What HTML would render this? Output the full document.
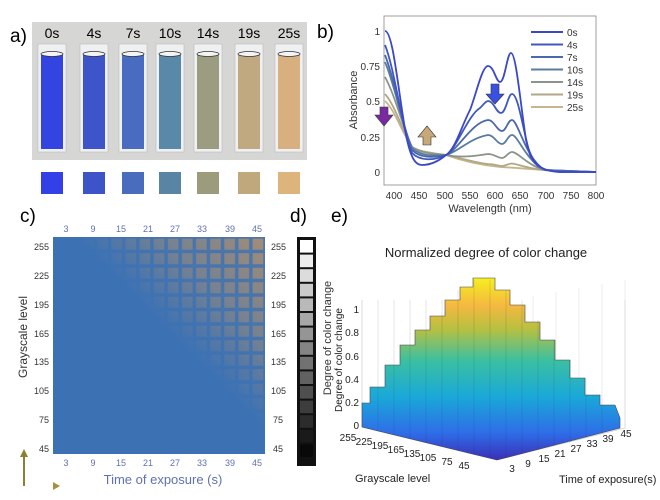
<!DOCTYPE html>
<html><head><meta charset="utf-8"><style>
body{margin:0;background:#fff;width:660px;height:495px;overflow:hidden;font-family:"Liberation Sans",sans-serif}
</style></head><body>
<svg width="660" height="495" xmlns="http://www.w3.org/2000/svg" font-family="Liberation Sans, sans-serif">
<defs>
<linearGradient id="par" x1="0" y1="1" x2="0" y2="0">
<stop offset="0" stop-color="#3b2fb8"/><stop offset="0.15" stop-color="#2e6ee8"/><stop offset="0.35" stop-color="#1aa9d8"/><stop offset="0.55" stop-color="#3cc0a0"/><stop offset="0.72" stop-color="#b8c040"/><stop offset="0.85" stop-color="#f5b840"/><stop offset="1" stop-color="#f5f020"/>
</linearGradient>
<linearGradient id="arr" x1="0" y1="0" x2="1" y2="0"><stop offset="0" stop-color="#3a6fb0"/><stop offset="1" stop-color="#a89040"/></linearGradient>
<linearGradient id="tan" x1="1" y1="0" x2="0.2" y2="0.8"><stop offset="0" stop-color="#b09070" stop-opacity="0.9"/><stop offset="0.3" stop-color="#a08c78" stop-opacity="0.6"/><stop offset="0.55" stop-color="#a08c78" stop-opacity="0"/></linearGradient>
<linearGradient id="gfade" x1="1" y1="0" x2="0.2" y2="0.8"><stop offset="0" stop-color="#fff"/><stop offset="0.5" stop-color="#fff"/><stop offset="0.65" stop-color="#000"/></linearGradient>
<mask id="m"><rect x="53" y="237" width="212" height="217" fill="url(#gfade)"/></mask>
<pattern id="grid" x="53" y="237" width="14.13" height="14.5" patternUnits="userSpaceOnUse"><rect width="14.13" height="14.5" fill="none" stroke="#3c72b4" stroke-width="3.5"/></pattern>
</defs>
<!-- a -->
<text x="10" y="42" font-size="19">a)</text>
<rect x="32" y="22" width="275" height="138" fill="#d6d6d4"/>
<g font-size="14" text-anchor="middle">
<text x="52" y="38">0s</text><text x="94" y="38">4s</text><text x="133" y="38">7s</text><text x="170" y="38">10s</text><text x="208" y="38">14s</text><text x="249" y="38">19s</text><text x="289" y="38">25s</text>
</g>
<g stroke="#bbb" stroke-width="0.6" fill="#eef0f2">
<rect x="38" y="44" width="28" height="108"/><rect x="80" y="44" width="28" height="108"/><rect x="119" y="44" width="28" height="108"/><rect x="156" y="44" width="28" height="108"/><rect x="194" y="44" width="28" height="108"/><rect x="235" y="44" width="28" height="108"/><rect x="275" y="44" width="28" height="108"/>
</g>
<rect x="41" y="55" width="22" height="94" fill="#3344e0"/><rect x="83" y="55" width="22" height="94" fill="#3d55c8"/><rect x="122" y="55" width="22" height="94" fill="#4a6cc0"/><rect x="159" y="55" width="22" height="94" fill="#5a88a8"/><rect x="197" y="55" width="22" height="94" fill="#9c9c80"/><rect x="238" y="55" width="22" height="94" fill="#c0a880"/><rect x="278" y="55" width="22" height="94" fill="#d8b080"/>
<g fill="#f4f4f4" stroke="#333" stroke-width="0.8">
<ellipse cx="52" cy="54" rx="11" ry="2.5"/><ellipse cx="94" cy="54" rx="11" ry="2.5"/><ellipse cx="133" cy="54" rx="11" ry="2.5"/><ellipse cx="170" cy="54" rx="11" ry="2.5"/><ellipse cx="208" cy="54" rx="11" ry="2.5"/><ellipse cx="249" cy="54" rx="11" ry="2.5"/><ellipse cx="289" cy="54" rx="11" ry="2.5"/>
</g>
<rect x="41" y="172" width="22" height="22" fill="#3340e8"/><rect x="83" y="172" width="22" height="22" fill="#3c54c8"/><rect x="122" y="172" width="22" height="22" fill="#4a6cbc"/><rect x="159" y="172" width="22" height="22" fill="#5a84a4"/><rect x="197" y="172" width="22" height="22" fill="#9c9c7c"/><rect x="238" y="172" width="22" height="22" fill="#c0a87c"/><rect x="278" y="172" width="22" height="22" fill="#dcb47c"/>
<!-- b -->
<text x="317" y="38" font-size="19">b)</text>
<rect x="384" y="16" width="212" height="169" fill="#fff" stroke="#888" stroke-width="0.8"/>
<g font-size="10" fill="#333" text-anchor="end">
<text x="380" y="176">0</text><text x="380" y="141">0.25</text><text x="380" y="105">0.5</text><text x="380" y="70">0.75</text><text x="380" y="35">1</text>
</g>
<g font-size="10" fill="#333" text-anchor="middle">
<text x="394" y="199">400</text><text x="419" y="199">450</text><text x="445" y="199">500</text><text x="470" y="199">550</text><text x="495" y="199">600</text><text x="520" y="199">650</text><text x="546" y="199">700</text><text x="571" y="199">750</text><text x="596" y="199">800</text>
</g>
<g fill="none" stroke-width="1.8">
<path stroke="#c8b48c" d="M385,101 C395,110 403,135 412,147 C420,152 432,153 446,155 C460,160 480,165 500,167 C520,168 540,170 560,171 L596,172"/>
<path stroke="#b0a888" d="M385,94 C395,105 403,132 412,147 C420,152 432,153 446,155 C460,158 478,163 488,164 C494,164 498,166 502,166 C506,166 508,163.5 512,163.5 C518,164 530,170 560,171.5 L596,172"/>
<path stroke="#8a9488" d="M385,77 C395,95 403,128 412,147 C420,153 432,154 446,155 C460,158 475,156 488,154 C494,154 498,158 502,158 C506,158 508,152 512,152 C518,152 528,166 545,170 L596,172"/>
<path stroke="#5a7ca0" d="M385,62 C395,85 402,125 412,148 C420,156 432,156 446,155 C458,152 470,138 488,135 C494,135 497,144 502,144 C506,144 508,135 512,135 C518,135 525,160 545,170 L596,172"/>
<path stroke="#4a68b0" d="M385,55 C395,80 402,125 412,150 C420,158 432,158 446,155 C458,150 472,122 488,120 C494,120 497,131 502,131 C506,131 508,120 512,120 C518,120 526,160 545,170 L596,172"/>
<path stroke="#4058c0" d="M385,45 C395,70 401,125 412,153 C420,161 434,161 446,155 C456,150 468,115 480,108 C484,104 486,101 488,101 C494,101 496,113 501,113 C506,113 508,94 512,94 C518,94 522,125 530,155 C535,168 545,171 560,172 L596,172"/>
<path stroke="#3a48c8" d="M385,31 C393,31 398,90 406,135 C411,160 416,165 422,165 C432,165 440,160 446,155 C455,150 462,125 470,110 C476,95 482,66 488,66 C494,66 496,82 500,82 C505,82 507,53 511,53 C516,53 520,100 526,140 C532,165 540,171 560,172 L596,172"/>
</g>
<g stroke-width="2">
<line x1="531" x2="563" y1="32" y2="32" stroke="#3a48c8"/><line x1="531" x2="563" y1="44.5" y2="44.5" stroke="#4058c0"/><line x1="531" x2="563" y1="57" y2="57" stroke="#4a68b0"/><line x1="531" x2="563" y1="69.5" y2="69.5" stroke="#5a7ca0"/><line x1="531" x2="563" y1="82" y2="82" stroke="#8a9488"/><line x1="531" x2="563" y1="94.5" y2="94.5" stroke="#b0a888"/><line x1="531" x2="563" y1="107" y2="107" stroke="#c8b48c"/>
</g>
<g font-size="10" fill="#333">
<text x="567" y="36">0s</text><text x="567" y="48.5">4s</text><text x="567" y="61">7s</text><text x="567" y="73.5">10s</text><text x="567" y="86">14s</text><text x="567" y="98.5">19s</text><text x="567" y="111">25s</text>
</g>
<path d="M380,107h8v8h5l-9,11l-9,-11h5z" fill="#7a2aa0" stroke="#333" stroke-width="0.6"/>
<path d="M423,145h8v-8h5l-9,-11l-9,11h5z" fill="#c8a878" stroke="#333" stroke-width="0.6"/>
<path d="M491,84h8v10h5l-9,10l-9,-10h5z" fill="#3a50e0" stroke="#333" stroke-width="0.6"/>
<text transform="translate(357,100) rotate(-90)" font-size="11" text-anchor="middle" fill="#333">Absorbance</text>
<text x="490" y="212" font-size="11" text-anchor="middle" fill="#333">Wavelength (nm)</text>
<!-- c -->
<text x="20" y="222" font-size="19">c)</text>
<rect x="53" y="237" width="212" height="217" fill="#3c72b4"/>
<rect x="53" y="237" width="212" height="217" fill="url(#tan)"/>
<rect x="53" y="237" width="212" height="217" fill="url(#grid)" opacity="0.8" mask="url(#m)"/>
<g font-size="9" fill="#333" text-anchor="end">
<text x="49" y="250">255</text><text x="49" y="279">225</text><text x="49" y="308">195</text><text x="49" y="337">165</text><text x="49" y="365">135</text><text x="49" y="394">105</text><text x="49" y="423">75</text><text x="49" y="452">45</text>
</g>
<g font-size="9" fill="#333">
<text x="271" y="250">255</text><text x="271" y="279">225</text><text x="271" y="308">195</text><text x="271" y="337">165</text><text x="271" y="365">135</text><text x="271" y="394">105</text><text x="273" y="423">75</text><text x="273" y="452">45</text>
</g>
<g font-size="9" fill="#6070b0" text-anchor="middle">
<text x="66" y="232">3</text><text x="93" y="232">9</text><text x="121" y="232">15</text><text x="148" y="232">21</text><text x="175" y="232">27</text><text x="202" y="232">33</text><text x="230" y="232">39</text><text x="257" y="232">45</text>
<text x="66" y="466">3</text><text x="93" y="466">9</text><text x="121" y="466">15</text><text x="148" y="466">21</text><text x="175" y="466">27</text><text x="202" y="466">33</text><text x="230" y="466">39</text><text x="257" y="466">45</text>
</g>
<text transform="translate(27,337) rotate(-90)" font-size="12" text-anchor="middle" fill="#333">Grayscale level</text>
<text x="163" y="484" font-size="13" text-anchor="middle" fill="#6070b0">Time of exposure (s)</text>
<path d="M24,486 L24,455" stroke="#8a8030" stroke-width="2"/><path d="M20,457 L24,449 L28,457Z" fill="#8a8030"/>
<path d="M24,486 L55,486" stroke="url(#arr)" stroke-width="2"/><path d="M53,482 L60,486 L53,490Z" fill="#a89040"/>
<!-- d -->
<text x="290" y="222" font-size="19">d)</text>
<rect x="297" y="237" width="19" height="229" fill="#111"/>
<rect x="300" y="240" width="13" height="12.6" fill="#ffffff"/><rect x="300" y="254.6" width="13" height="12.6" fill="#ededed"/><rect x="300" y="269.2" width="13" height="12.6" fill="#dcdcdc"/><rect x="300" y="283.8" width="13" height="12.6" fill="#cacaca"/><rect x="300" y="298.4" width="13" height="12.6" fill="#b9b9b9"/><rect x="300" y="313" width="13" height="12.6" fill="#a7a7a7"/><rect x="300" y="327.6" width="13" height="12.6" fill="#959595"/><rect x="300" y="342.2" width="13" height="12.6" fill="#848484"/><rect x="300" y="356.8" width="13" height="12.6" fill="#727272"/><rect x="300" y="371.4" width="13" height="12.6" fill="#616161"/><rect x="300" y="386" width="13" height="12.6" fill="#4f4f4f"/><rect x="300" y="400.6" width="13" height="12.6" fill="#3d3d3d"/><rect x="300" y="415.2" width="13" height="12.6" fill="#2c2c2c"/><rect x="300" y="429.8" width="13" height="12.6" fill="#1a1a1a"/><rect x="300" y="444.4" width="13" height="12.6" fill="#090909"/>
<text transform="translate(331,338) rotate(-90)" font-size="11" text-anchor="middle" fill="#333">Degree of color change</text>
<!-- e -->
<text x="331" y="222" font-size="19">e)</text>
<text x="486" y="257" font-size="13" text-anchor="middle" fill="#222">Normalized degree of color change</text>
<path d="M362,427 L362,300 M497,460 L625,428 L625,300 M362,427 L497,460" stroke="#ccc" fill="none" stroke-width="0.7"/>
<g stroke="#e0e0e0" stroke-width="0.6">
<line x1="510" y1="300" x2="510" y2="420"/><line x1="533" y1="296" x2="533" y2="414"/><line x1="556" y1="292" x2="556" y2="408"/><line x1="579" y1="288" x2="579" y2="402"/><line x1="602" y1="284" x2="602" y2="396"/><line x1="625" y1="280" x2="625" y2="390"/>
</g>
<g font-size="10" fill="#222" text-anchor="end">
<text x="359" y="429">0</text><text x="359" y="406">0.2</text><text x="359" y="383">0.4</text><text x="359" y="360">0.6</text><text x="359" y="336">0.8</text><text x="359" y="313">1</text>
</g>
<path d="M362,427 L362,403 L370,403 L370,387 L385,387 L385,365 L400,365 L400,345 L415,345 L415,330 L430,330 L430,316 L445,316 L445,300 L460,300 L460,287 L473,287 L473,278 L495,278 L495,290 L510,290 L510,305 L525,305 L525,322 L540,322 L540,340 L555,340 L555,360 L570,360 L570,378 L585,378 L585,395 L600,395 L600,405 L615,405 L620,418 L620,428 L497,460 Z" fill="url(#par)" stroke="#445" stroke-width="0.6"/>
<g stroke="#223" stroke-opacity="0.2" stroke-width="0.6">
<line x1="378" y1="300" x2="378" y2="431"/><line x1="394" y1="300" x2="394" y2="435"/><line x1="410" y1="300" x2="410" y2="439"/><line x1="426" y1="300" x2="426" y2="443"/><line x1="442" y1="300" x2="442" y2="447"/><line x1="458" y1="290" x2="458" y2="451"/><line x1="474" y1="280" x2="474" y2="455"/><line x1="490" y1="280" x2="490" y2="458"/><line x1="506" y1="290" x2="506" y2="458"/><line x1="522" y1="300" x2="522" y2="454"/><line x1="538" y1="320" x2="538" y2="450"/><line x1="554" y1="340" x2="554" y2="446"/><line x1="570" y1="360" x2="570" y2="442"/><line x1="586" y1="378" x2="586" y2="438"/><line x1="602" y1="395" x2="602" y2="434"/>
</g>
<g font-size="10" fill="#222" text-anchor="middle">
<text x="348" y="441">255</text><text x="364" y="445">225</text><text x="380" y="449">195</text><text x="396" y="453">165</text><text x="412" y="457">135</text><text x="428" y="461">105</text><text x="447" y="465">75</text><text x="464" y="469">45</text>
<text x="512" y="472">3</text><text x="528" y="467">9</text><text x="544" y="462">15</text><text x="560" y="457">21</text><text x="576" y="452">27</text><text x="592" y="447">33</text><text x="608" y="442">39</text><text x="626" y="437">45</text>
</g>
<text x="355" y="482" font-size="11" fill="#222">Grayscale level</text>
<text x="559" y="483" font-size="11" fill="#222">Time of exposure(s)</text>
<text transform="translate(342,360) rotate(-90)" font-size="10" text-anchor="middle" fill="#222">Degree of color change</text>
</svg>
</body></html>
